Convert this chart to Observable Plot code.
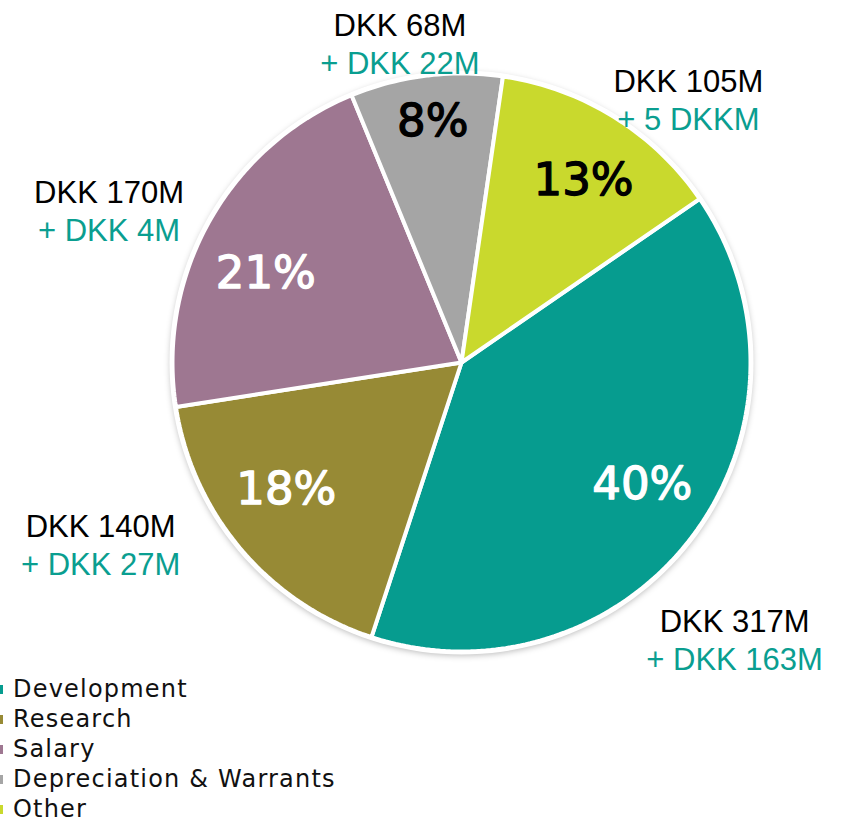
<!DOCTYPE html>
<html><head><meta charset="utf-8">
<script src="https://cdn.jsdelivr.net/npm/d3@7"></script>
<script src="https://cdn.jsdelivr.net/npm/@observablehq/plot@0.6"></script>
<style>
html,body{margin:0;padding:0;background:#fff;overflow:hidden}
#legend{font-family:"DejaVu Sans",Verdana,sans-serif;font-size:24px;letter-spacing:1.2px;line-height:30px;color:#111;margin-top:-2px}
.row{position:relative;padding-left:13px;white-space:nowrap}
.sw{position:absolute;left:-6px;top:11px;width:9px;height:9px}
</style></head><body>
<div id="chart"></div>
<div id="legend"></div>
<script>
// ---- data ----
const categories = ["Development", "Research", "Salary", "Depreciation & Warrants", "Other"];
const amounts = [317, 140, 170, 68, 105];            // DKK M
const amountLabels = ["DKK 317M", "DKK 140M", "DKK 170M", "DKK 68M", "DKK 105M"];
const changeLabels = ["+ DKK 163M", "+ DKK 27M", "+ DKK 4M", "+ DKK 22M", "+ 5 DKKM"];
const shareLabels = ["40%", "18%", "21%", "8%", "13%"];
const colors = ["#069C8F", "#978A35", "#9E7791", "#A5A5A5", "#C9D92D"];

// ---- layout ----
const W = 844, H = 676, cx = 461, cy = 362, R = 289;
const startDeg = 55.5;
// label placement: angle (deg, clockwise from 12 o'clock), distance in pie radii
const pctAngle = [124.4, 234.3, 294.2, 352.7, 33.4];
const pctDist = [0.755, 0.76, 0.755, 0.845, 0.76];
const calloutAngle = [135.6, 243.1, 293.1, 349.0, 41.0];
const calloutDist = [1.36, 1.41, 1.335, 1.125, 1.205];
const teal = "#0A9E90";

const rad = Math.PI / 180;
const pie = d3.pie().sort(null).value(d => d.value)
  .startAngle(startDeg * rad).endAngle(startDeg * rad + 2 * Math.PI);
const rows = categories.map((c, i) => ({cat: c, value: amounts[i], i}));
const arcs = pie(rows);

// slice polygons
const slicePts = [];
for (const a of arcs) {
  const n = Math.max(8, Math.ceil((a.endAngle - a.startAngle) / rad));
  slicePts.push({cat: a.data.cat, x: 0, y: 0});
  for (let k = 0; k <= n; k++) {
    const t = a.startAngle + (a.endAngle - a.startAngle) * k / n;
    slicePts.push({cat: a.data.cat, x: R * Math.sin(t), y: R * Math.cos(t)});
  }
  slicePts.push({cat: a.data.cat, x: 0, y: 0});
}
const circle = (r, dy) => d3.range(0, 361, 2).map(d => ({x: r * Math.sin(d * rad), y: r * Math.cos(d * rad) + dy}));

const r0 = R - 2;
const labelPts = arcs.map(a => {
  const i = a.data.i;
  const dark = d3.lab(colors[i]).l < 62;
  return {
    i, dark, text: shareLabels[i],
    x: pctDist[i] * r0 * Math.sin(pctAngle[i] * rad), y: pctDist[i] * r0 * Math.cos(pctAngle[i] * rad),
    cxp: calloutDist[i] * r0 * Math.sin(calloutAngle[i] * rad),
    cyp: calloutDist[i] * r0 * Math.cos(calloutAngle[i] * rad),
    amount: amountLabels[i], change: changeLabels[i]
  };
});

const pctStyle = {x: "x", y: "y", text: "text", fontSize: 45, fontWeight: "normal", dx: 2,
  fontFamily: "DejaVu Sans, Verdana, sans-serif", letterSpacing: 5, strokeWidth: 1.3};

const chart = Plot.plot({
  width: W, height: H, margin: 0,
  style: {overflow: "visible", background: "white"},
  x: {domain: [-cx, W - cx], axis: null},
  y: {domain: [-(H - cy), cy], axis: null},
  color: {domain: categories, range: colors},
  marks: [
    Plot.line(circle(R + 2, -2), {x: "x", y: "y", fill: "#000", fillOpacity: 0.28, stroke: "none"}),
    Plot.line(circle(R + 3, 0), {x: "x", y: "y", fill: "white", stroke: "none"}),
    Plot.line(slicePts, {x: "x", y: "y", z: "cat", fill: "cat", stroke: "white", strokeWidth: 4, strokeLinejoin: "miter", curve: "linear"}),
    Plot.text(labelPts.filter(d => d.dark), {...pctStyle, fill: "white", stroke: "white"}),
    Plot.text(labelPts.filter(d => !d.dark), {...pctStyle, fill: "black", stroke: "black"}),
    Plot.text(labelPts, {x: "cxp", y: "cyp", text: "amount", dy: -19, fill: "#000", fontSize: 31, fontFamily: "Liberation Sans, Arial, sans-serif"}),
    Plot.text(labelPts, {x: "cxp", y: "cyp", text: "change", dy: 19, fill: teal, fontSize: 31, fontFamily: "Liberation Sans, Arial, sans-serif"})
  ]
});
const g = chart.querySelectorAll('g[aria-label="line"]');
if (g[0]) g[0].style.filter = "blur(3px)";
document.getElementById("chart").appendChild(chart);

const leg = d3.select("#legend");
categories.forEach((c, i) => {
  const r = leg.append("div").attr("class", "row");
  r.append("span").attr("class", "sw").style("background", colors[i]);
  r.append("span").text(c);
});
</script>
</body></html>
